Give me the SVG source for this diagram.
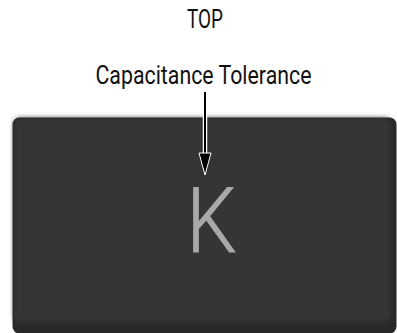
<svg xmlns="http://www.w3.org/2000/svg" width="397" height="333" viewBox="0 0 397 333">
  <style>
    .lbl { font-family: Roboto, "Liberation Sans", sans-serif; font-size: 25px; fill: #111; }
    .mark { font-family: Roboto, "Liberation Sans", sans-serif; font-weight: 300; font-size: 90px; fill: #a9a9a9; stroke: #a9a9a9; stroke-width: 0.8; }
  </style>
  <defs>
    <filter id="soft" x="-5%" y="-5%" width="110%" height="110%">
      <feGaussianBlur stdDeviation="2.5"/>
    </filter>
  </defs>
  <rect width="397" height="333" fill="#fff"/>
  <g id="chip">
    <rect x="12.5" y="117.5" width="384" height="216" rx="7" fill="#282828"/>
    <rect x="14" y="118" width="377" height="204" rx="6" fill="#343434" filter="url(#soft)"/>
    <text class="mark" x="0" y="252" text-anchor="middle" transform="translate(211.5 0) scale(0.88 1)">K</text>
  </g>
  <g id="label-top">
    <text class="lbl" x="205" y="28" text-anchor="middle" textLength="36" lengthAdjust="spacingAndGlyphs">TOP</text>
  </g>
  <g id="label-tol">
    <text class="lbl" x="203.5" y="84" text-anchor="middle" textLength="216" lengthAdjust="spacingAndGlyphs">Capacitance Tolerance</text>
  </g>
  <g id="connectors">
    <line x1="205" y1="92" x2="205" y2="160" stroke="#fff" stroke-width="4.5"/>
    <line x1="205" y1="92" x2="205" y2="160" stroke="#000" stroke-width="2"/>
    <path d="M199,153 L211,153 L205,175 Z" fill="#000" stroke="#fff" stroke-width="1"/>
  </g>
</svg>
